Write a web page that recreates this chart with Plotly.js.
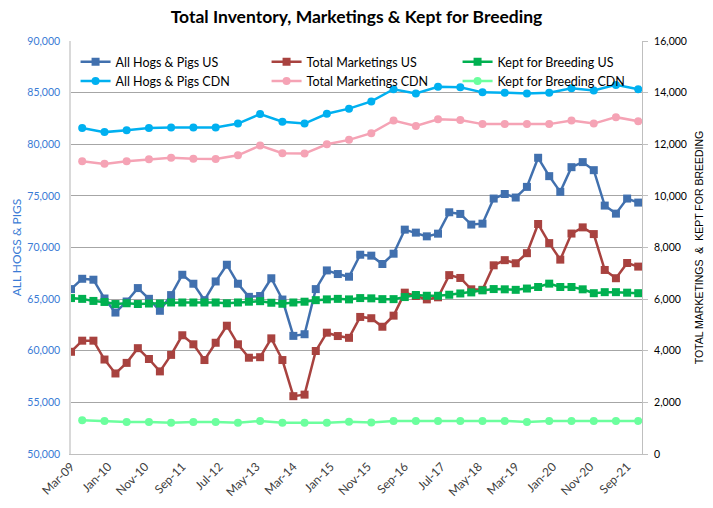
<!DOCTYPE html>
<html>
<head>
<meta charset="utf-8">
<script src="https://cdn.plot.ly/plotly-3.0.1.min.js"></script>
<style>
html,body{margin:0;padding:0;background:#fff;}
#chart{width:713px;height:508px;}
</style>
</head>
<body>
<div id="chart"></div>
<script>
// Quarterly survey dates (US series)
const quarters = [
 '2009-03-01','2009-06-01','2009-09-01','2009-12-01',
 '2010-03-01','2010-06-01','2010-09-01','2010-12-01',
 '2011-03-01','2011-06-01','2011-09-01','2011-12-01',
 '2012-03-01','2012-06-01','2012-09-01','2012-12-01',
 '2013-03-01','2013-06-01','2013-09-01','2013-12-01',
 '2014-03-01','2014-06-01','2014-09-01','2014-12-01',
 '2015-03-01','2015-06-01','2015-09-01','2015-12-01',
 '2016-03-01','2016-06-01','2016-09-01','2016-12-01',
 '2017-03-01','2017-06-01','2017-09-01','2017-12-01',
 '2018-03-01','2018-06-01','2018-09-01','2018-12-01',
 '2019-03-01','2019-06-01','2019-09-01','2019-12-01',
 '2020-03-01','2020-06-01','2020-09-01','2020-12-01',
 '2021-03-01','2021-06-01','2021-09-01','2021-12-01'
];
// Semi-annual dates (CDN series)
const halfYears = [
 '2009-06-01','2009-12-01','2010-06-01','2010-12-01','2011-06-01','2011-12-01',
 '2012-06-01','2012-12-01','2013-06-01','2013-12-01','2014-06-01','2014-12-01',
 '2015-06-01','2015-12-01','2016-06-01','2016-12-01','2017-06-01','2017-12-01',
 '2018-06-01','2018-12-01','2019-06-01','2019-12-01','2020-06-01','2020-12-01',
 '2021-06-01','2021-12-01'
];

const allHogsUS = [
 65970,66970,66880,65060,63700,64770,66070,65030,63870,65390,
 67360,66490,64900,66710,68330,66490,65220,65300,67020,64960,
 61440,61600,65970,67780,67430,67170,69300,69210,68400,69400,
 71730,71440,71080,71340,73410,73250,72220,72310,74740,75180,
 74840,75870,78690,76910,75390,77780,78270,77490,74060,73280,
 74740,74350
];
const totalMarketingsUS = [
 3960,4390,4390,3660,3120,3530,4100,3680,3200,3840,
 4600,4250,3640,4310,4970,4250,3730,3750,4480,3640,
 2240,2300,3990,4700,4570,4500,5310,5260,4930,5360,
 6250,6120,5990,6070,6930,6820,6380,6360,7310,7510,
 7390,7780,8910,8170,7530,8540,8780,8520,7130,6810,
 7400,7260
];
const keptBreedingUS = [
 6040,6010,5930,5890,5810,5840,5810,5830,5830,5870,
 5870,5870,5870,5870,5840,5870,5900,5920,5860,5820,
 5870,5900,5960,5990,6010,5990,6040,6030,6000,6000,
 6080,6160,6130,6130,6170,6220,6260,6340,6390,6380,
 6360,6410,6470,6600,6470,6470,6380,6230,6270,6270,
 6250,6230
];
const allHogsCDN = [
 12630,12470,12540,12630,12650,12650,12650,12800,13170,12870,
 12800,13180,13380,13660,14130,13970,14230,14210,14010,14000,
 13970,14000,14170,14080,14300,14130
];
const totalMarketingsCDN = [
 11340,11240,11340,11420,11480,11440,11430,11570,11950,11650,
 11640,12000,12170,12430,12920,12710,12970,12940,12780,12780,
 12780,12780,12920,12800,13050,12890
];
const keptBreedingCDN = [
 1310,1280,1240,1240,1210,1240,1240,1210,1280,1210,
 1210,1210,1250,1220,1280,1280,1280,1280,1280,1280,
 1240,1280,1280,1280,1280,1280
];

const names = ['All Hogs & Pigs US','Total Marketings US','Kept for Breeding US',
               'All Hogs & Pigs CDN','Total Marketings CDN','Kept for Breeding CDN'];

function tr(x, y, name, color, symbol, axis, msize){
  return {
    type:'scatter', mode:'lines+markers', x:x, y:y, name:name, yaxis:axis,
    line:{color:color, width:2.5},
    marker:{color:color, symbol:symbol, size:msize},
    connectgaps:true
  };
}

const data = [
  tr(quarters, allHogsUS, names[0], '#4170AE', 'square', 'y', 8),
  tr(quarters, totalMarketingsUS, names[1], '#A8423F', 'square', 'y2', 8),
  tr(quarters, keptBreedingUS, names[2], '#00B050', 'square', 'y2', 8),
  tr(halfYears, allHogsCDN, names[3], '#00B0F0', 'circle', 'y2', 8),
  tr(halfYears, totalMarketingsCDN, names[4], '#F5A3B5', 'circle', 'y2', 8),
  tr(halfYears, keptBreedingCDN, names[5], '#6CFF9E', 'circle', 'y2', 8)
];

const layout = {
  width:713, height:508,
  margin:{l:71, r:71, t:41, b:54},
  paper_bgcolor:'#ffffff', plot_bgcolor:'#ffffff',
  font:{family:'Lato, "Liberation Sans", sans-serif', color:'#000'},
  showlegend:true,
  title:{
    text:'<b>Total Inventory, Marketings & Kept for Breeding</b>',
    x:0.5, xanchor:'center', y:1-17/508, yanchor:'middle', yref:'container',
    font:{size:17.5, color:'#000', family:'Lato, sans-serif'}
  },
  legend:{
    orientation:'h', x:0.008, xanchor:'left', y:0.985, yanchor:'top',
    entrywidth:146, entrywidthmode:'pixels', traceorder:'normal',
    font:{size:12.5, color:'#000'}, bgcolor:'rgba(255,255,255,0)',
    itemwidth:30
  },
  xaxis:{
    type:'date', range:['2009-03-01','2022-01-01'],
    tick0:'2009-03-01', dtick:'M10', tickformat:'%b-%y',
    tickangle:-45, tickfont:{size:12, color:'#404040'},
    showgrid:false, showline:true, linecolor:'#BFBFBF', linewidth:1,
    ticks:'', zeroline:false
  },
  yaxis:{
    range:[50000,90000], dtick:5000, tick0:50000, tickformat:',d',
    showgrid:true, gridcolor:'#A6A6A6', gridwidth:1,
    showline:true, linecolor:'#D9D9D9', linewidth:1.5,
    ticks:'', ticklabelstandoff:7,
    tickfont:{size:10.5, color:'#3A7BD5'},
    title:{text:'ALL HOGS & PIGS', font:{size:12, color:'#3A7BD5'}, standoff:3},
    zeroline:false
  },
  yaxis2:{
    overlaying:'y', side:'right', range:[0,16000], dtick:2000, tick0:0,
    tickformat:',d', showgrid:false,
    showline:true, linecolor:'#BFBFBF', linewidth:1,
    ticks:'outside', ticklen:5, tickcolor:'#BFBFBF', ticklabelstandoff:4,
    tickfont:{size:10.5, color:'#000'},
    title:{text:'TOTAL MARKETINGS\u00a0\u00a0&\u00a0\u00a0KEPT FOR BREEDING', font:{size:10.5, color:'#000', family:'"Liberation Sans", Arial, sans-serif'}, standoff:9},
    zeroline:false
  }
};

Plotly.newPlot('chart', data, layout, {displayModeBar:false, responsive:false});
</script>
</body>
</html>
